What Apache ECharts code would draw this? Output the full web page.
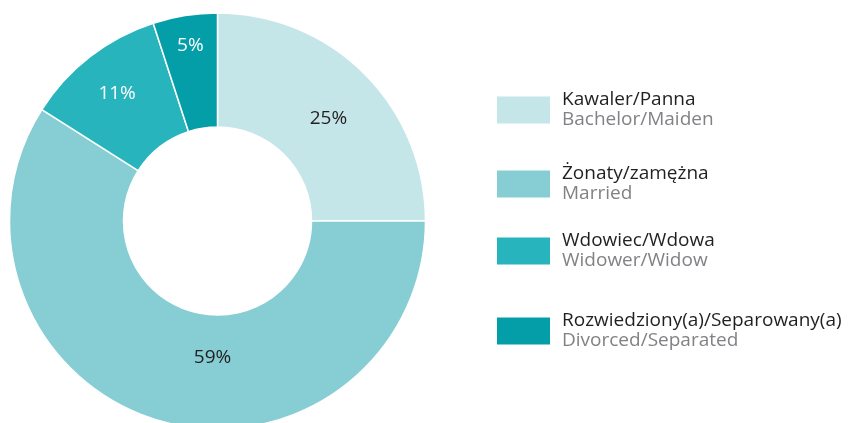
<!DOCTYPE html>
<html lang="pl">
  <head>
    <meta charset="UTF-8" />
    <title>Stan cywilny</title>
    <style>
      * {
        margin: 0;
        padding: 0;
      }
      html,
      body {
        width: 100%;
        height: 100%;
        background: #fff;
      }
      #chart {
        width: 849px;
        height: 423px;
      }
    </style>
    <script src="https://cdn.jsdelivr.net/npm/echarts@6/dist/echarts.min.js"></script>
  </head>
  <body>
    <div id="chart"></div>
    <script>
      // dane
      var categories = ["Kawaler/Panna", "Żonaty/zamężna", "Wdowiec/Wdowa", "Rozwiedziony(a)/Separowany(a)"];
      var categoriesEn = ["Bachelor/Maiden", "Married", "Widower/Widow", "Divorced/Separated"];
      var values = [25, 59, 11, 5];

      var colors = ["#c5e6e8", "#86ced3", "#27b4bd", "#049ea9"];
      var labelColors = ["#231f20", "#231f20", "#ffffff", "#ffffff"];
      // przesunięcia etykiet procentowych (jak w oryginale)
      var labelShift = [[2, 6], [38, -11], [-6, -6], [-3, -23]];
      // środki kwadratów legendy (y)
      var legendCenters = [110.5, 184.5, 251.5, 331.5];

      var font = "Open Sans";

      var pieData = categories.map(function (name, i) {
        return {
          name: name,
          value: values[i],
          itemStyle: { color: colors[i] },
          label: { color: labelColors[i] },
        };
      });

      var legends = categories.map(function (name, i) {
        return {
          data: [name],
          orient: "vertical",
          left: 497,
          top: legendCenters[i] - 20,
          padding: 0,
          icon: "rect",
          itemWidth: 53,
          itemHeight: 27,
          selectedMode: false,
          itemStyle: { borderWidth: 0 },
          formatter: function (n) {
            return "{a|" + n + "}\n{b|" + categoriesEn[categories.indexOf(n)] + "}";
          },
          textStyle: {
            padding: [0, 0, 0, 7],
            rich: {
              a: { fontFamily: font, fontSize: 19, color: "#231f20", lineHeight: 20 },
              b: { fontFamily: font, fontSize: 19, color: "#808285", lineHeight: 20 },
            },
          },
        };
      });

      var option = {
        backgroundColor: "#ffffff",
        animation: false,
        legend: legends,
        series: [
          {
            type: "pie",
            center: [217.5, 221],
            radius: [94, 208],
            startAngle: 90,
            clockwise: true,
            silent: true,
            itemStyle: {
              borderColor: "#ffffff",
              borderWidth: 1.5,
            },
            label: {
              show: true,
              position: "inside",
              formatter: "{c}%",
              fontFamily: font,
              fontSize: 19,
            },
            labelLine: { show: false },
            labelLayout: function (params) {
              var s = labelShift[params.dataIndex];
              return { dx: s[0], dy: s[1] };
            },
            data: pieData,
          },
        ],
      };

      var myChart = echarts.init(document.getElementById("chart"));
      myChart.setOption(option);
    </script>
  </body>
</html>
